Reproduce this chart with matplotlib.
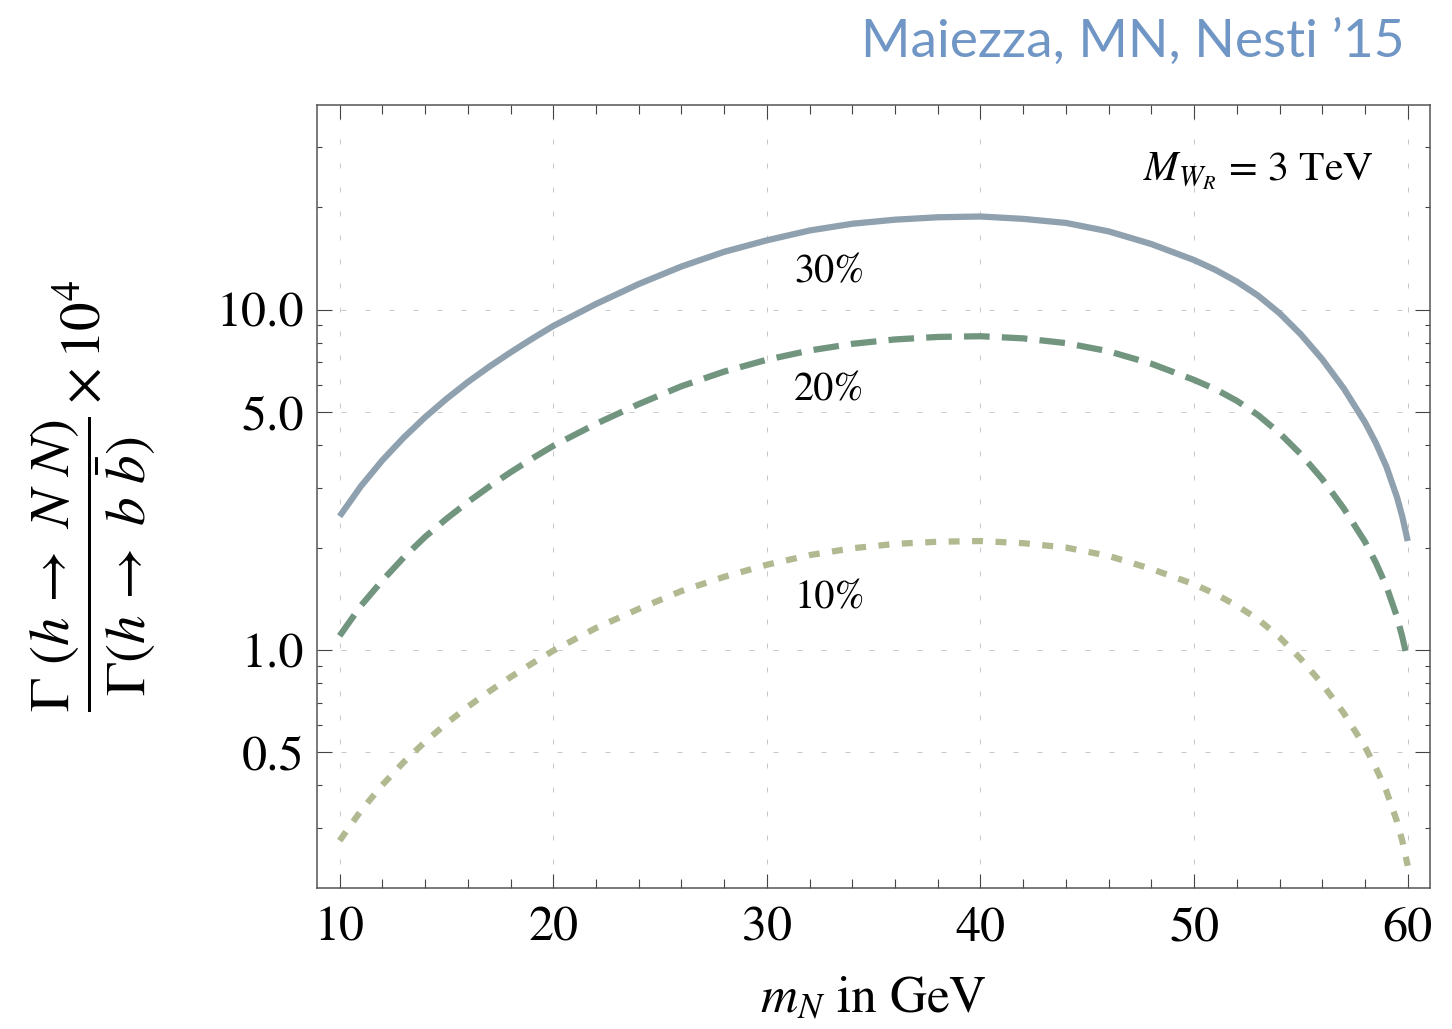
import matplotlib
matplotlib.use("Agg")
import matplotlib.pyplot as plt
from matplotlib.ticker import FixedLocator, FixedFormatter, NullFormatter

plt.rcParams['font.family'] = ['STIXGeneral', 'DejaVu Sans']
plt.rcParams['mathtext.fontset'] = 'stix'

# Heavy-neutrino mass m_N in GeV
m_n = [10, 11, 12, 13, 14, 15, 16, 17, 18, 19, 20, 22, 24, 26, 28, 30, 32,
       34, 36, 38, 40, 42, 44, 46, 48, 50, 51, 52, 53, 54, 55, 56, 57, 58,
       58.5, 59, 59.5, 59.75, 60]

# Gamma(h -> NN) / Gamma(h -> b bbar) x 10^4, for three mixing values
ratio_30 = [2.47, 3.03, 3.61, 4.21, 4.83, 5.47, 6.13, 6.80, 7.49, 8.21, 8.96,
            10.4, 11.9, 13.4, 14.8, 16.0, 17.1, 17.9, 18.4, 18.7, 18.8, 18.5,
            18.0, 17.0, 15.6, 14.0, 13.1, 12.1, 11.0, 9.77, 8.46, 7.15, 5.88,
            4.67, 4.07, 3.46, 2.81, 2.46, 2.09]
ratio_20 = [1.10, 1.35, 1.60, 1.87, 2.15, 2.43, 2.72, 3.02, 3.33, 3.65, 3.98,
            4.62, 5.28, 5.96, 6.58, 7.13, 7.59, 7.94, 8.18, 8.32, 8.36, 8.24,
            7.98, 7.55, 6.94, 6.22, 5.84, 5.40, 4.90, 4.34, 3.76, 3.18, 2.61,
            2.08, 1.81, 1.54, 1.25, 1.09, 0.93]
ratio_10 = [0.275, 0.337, 0.401, 0.468, 0.537, 0.608, 0.681, 0.755, 0.832,
            0.912, 0.995, 1.16, 1.32, 1.49, 1.64, 1.78, 1.90, 1.99, 2.05,
            2.08, 2.09, 2.06, 2.00, 1.89, 1.73, 1.56, 1.46, 1.35, 1.23, 1.09,
            0.940, 0.794, 0.653, 0.519, 0.452, 0.385, 0.313, 0.274, 0.232]

curve_labels = ["30%", "20%", "10%"]
label_x = 32.93
label_y = [12.8, 5.77, 1.41]

x_major = [10, 20, 30, 40, 50, 60]
y_major = [0.5, 1.0, 5.0, 10.0]
y_major_text = ["0.5", "1.0", "5.0", "10.0"]
y_minor = [0.3, 0.4, 0.6, 0.7, 0.8, 0.9, 2, 3, 4, 6, 7, 8, 9, 20, 30]

fig = plt.figure(figsize=(14.52, 10.29), dpi=100)
ax = fig.add_axes([0.2183, 0.1373, 0.9848 - 0.2183, 0.898 - 0.1373])

c30, c20, c10 = '#8fa0ae', '#729580', '#b0b98f'
lw = 4.5
ax.plot(m_n, ratio_30, color=c30, lw=lw, solid_capstyle='butt',
        solid_joinstyle='round', zorder=3)
ax.plot(m_n, ratio_20, color=c20, lw=lw, linestyle=(0, (4.1, 1.95)),
        dash_capstyle='butt', zorder=3)
ax.plot(m_n, ratio_10, color=c10, lw=lw, linestyle=(0, (1.75, 2.0)),
        dash_capstyle='butt', zorder=3)

ax.set_yscale('log')
ax.set_xlim(8.94, 61.04)
ax.set_ylim(0.2, 40)

ax.xaxis.set_major_locator(FixedLocator(x_major))
ax.xaxis.set_minor_locator(FixedLocator([v for v in range(10, 61, 2) if v % 10]))
ax.yaxis.set_major_locator(FixedLocator(y_major))
ax.yaxis.set_major_formatter(FixedFormatter(y_major_text))
ax.yaxis.set_minor_locator(FixedLocator(y_minor))
ax.yaxis.set_minor_formatter(NullFormatter())

tick_col = '#444444'
ax.tick_params(axis='both', which='both', direction='in', top=True, right=True,
               color=tick_col, width=0.8, labelsize=36)
ax.tick_params(axis='x', which='major', length=10, pad=13)
ax.tick_params(axis='x', which='minor', length=6.3)
ax.tick_params(axis='y', which='major', length=10.8, pad=9)
ax.tick_params(axis='y', which='minor', length=3.6)

for s in ax.spines.values():
    s.set_color('#555555')
    s.set_linewidth(1.1)

ax.grid(True, which='major', color='#c8c8c8', lw=0.72, linestyle=(0, (5, 19)),
        zorder=0)

for txt, yy in zip(curve_labels, label_y):
    ax.text(label_x, yy, txt, fontsize=29, ha='center', va='center')

ax.text(53.0, 25.6, r'$M_{W_R}$ = 3 TeV', fontsize=30, ha='center', va='center')

ax.set_xlabel(r'$m_N$ in GeV', fontsize=37, labelpad=18)
ax.set_ylabel(r'$\dfrac{\Gamma\ (h\,\rightarrow\ N\ N)}'
              r'{\Gamma\left(h\,\rightarrow\ b\ \bar{b}\right)}\times 10^{4}$',
              fontsize=41, va='center')
ax.yaxis.set_label_coords(-0.201, 0.5)

fig.text(0.9676, 1 - 57 / 1029, "Maiezza, MN, Nesti \u201915", fontsize=38.3,
         family=['Lato', 'DejaVu Sans'], color='#7096c6', ha='right',
         va='baseline')

fig.savefig('out.png', dpi=100)
